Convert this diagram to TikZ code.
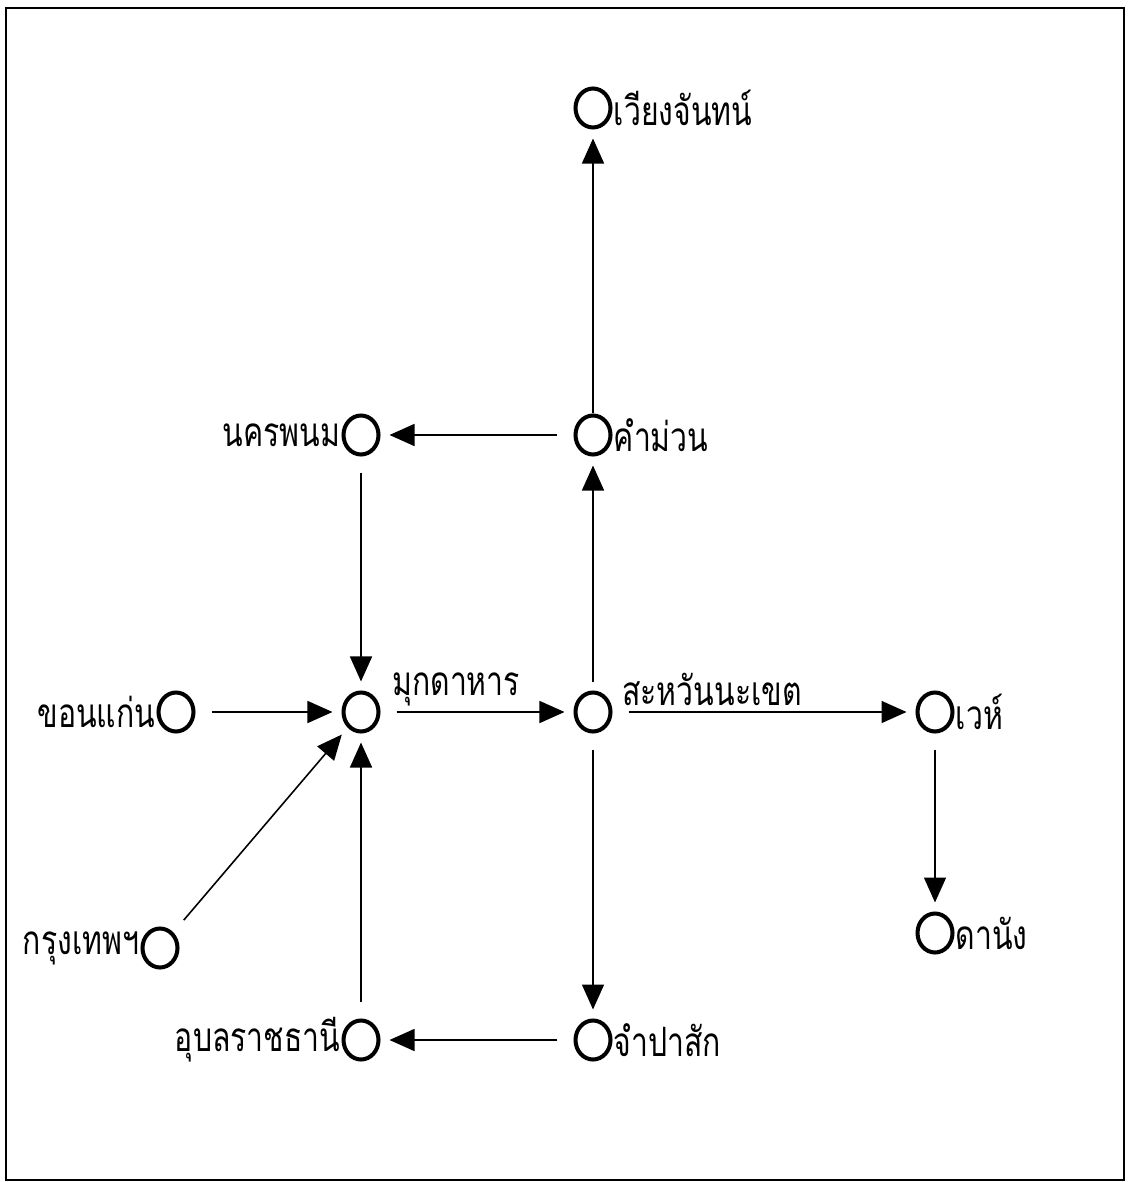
\documentclass[tikz,border=0pt]{standalone}
\usepackage{fontspec}
\newfontfamily\thaifont[Script=Thai]{Loma}
\newcommand\thlabel[1]{\scalebox{0.88}[1.18]{#1}}
\usetikzlibrary{arrows.meta,shapes.geometric}
\begin{document}
\begin{tikzpicture}[x=0.02cm,y=-0.02cm,
  town/.style={ellipse,draw,line width=2.3pt,minimum width=0.7cm,minimum height=0.78cm,inner sep=0pt},
  lbl/.style={font=\thaifont\fontsize{19.5}{22}\selectfont,inner sep=0pt},
  conn/.style={line width=0.9pt,-{Triangle[length=0.5cm,width=0.44cm]},shorten <=0.32cm,shorten >=0.18cm}]
\useasboundingbox (0,0) rectangle (1128,1182);
\draw[line width=1.1pt] (6,8) rectangle (1124,1180);
% towns
\node[town] (vt) at (593,108) {};
\node[town] (km) at (593,435) {};
\node[town] (np) at (361,435) {};
\node[town] (kk) at (176,712) {};
\node[town] (md) at (361,712) {};
\node[town] (sv) at (593,712) {};
\node[town] (wh) at (935,712) {};
\node[town] (dn) at (935,933) {};
\node[town] (bk) at (160,948) {};
\node[town] (ub) at (361,1040) {};
\node[town] (cp) at (593,1040) {};
% labels
\node[lbl,anchor=west] (vtl) at ([xshift=0.02cm]vt.east) {\thlabel{เวียงจันทน์}};
\node[lbl,anchor=west] (kml) at ([xshift=0.02cm]km.east) {\thlabel{คำม่วน}};
\node[lbl,anchor=east] (npl) at ([xshift=-0.02cm]np.west) {\thlabel{นครพนม}};
\node[lbl,anchor=east] (kkl) at ([xshift=-0.02cm]kk.west) {\thlabel{ขอนแก่น}};
\node[lbl,anchor=south west] (mdl) at (392,706) {\thlabel{มุกดาหาร}};
\node[lbl,anchor=south west] (svl) at (622,706) {\thlabel{สะหวันนะเขต}};
\node[lbl,anchor=west] (whl) at ([xshift=0.02cm]wh.east) {\thlabel{เวห์}};
\node[lbl,anchor=west] (dnl) at ([xshift=0.02cm]dn.east) {\thlabel{ดานัง}};
\node[lbl,anchor=east] (bkl) at ([xshift=-0.02cm]bk.west) {\thlabel{กรุงเทพฯ}};
\node[lbl,anchor=east] (ubl) at ([xshift=-0.02cm]ub.west) {\thlabel{อุบลราชธานี}};
\node[lbl,anchor=west] (cpl) at ([xshift=0.02cm]cp.east) {\thlabel{จำปาสัก}};
% connectors
\draw[conn,shorten <=0.0cm] (km) -- (vt);
\draw[conn] (km) -- (np);
\draw[conn] (np) -- (md);
\draw[conn] (kk) -- (md);
\draw[conn] (md) -- (sv);
\draw[conn,shorten <=0.16cm] (sv) -- (km);
\draw[conn] (sv) -- (wh);
\draw[conn] (wh) -- (dn);
\draw[conn] (sv) -- (cp);
\draw[conn] (cp) -- (ub);
\draw[conn] (ub) -- (md);
\draw[conn] (bk) -- (md);
\end{tikzpicture}
\end{document}
